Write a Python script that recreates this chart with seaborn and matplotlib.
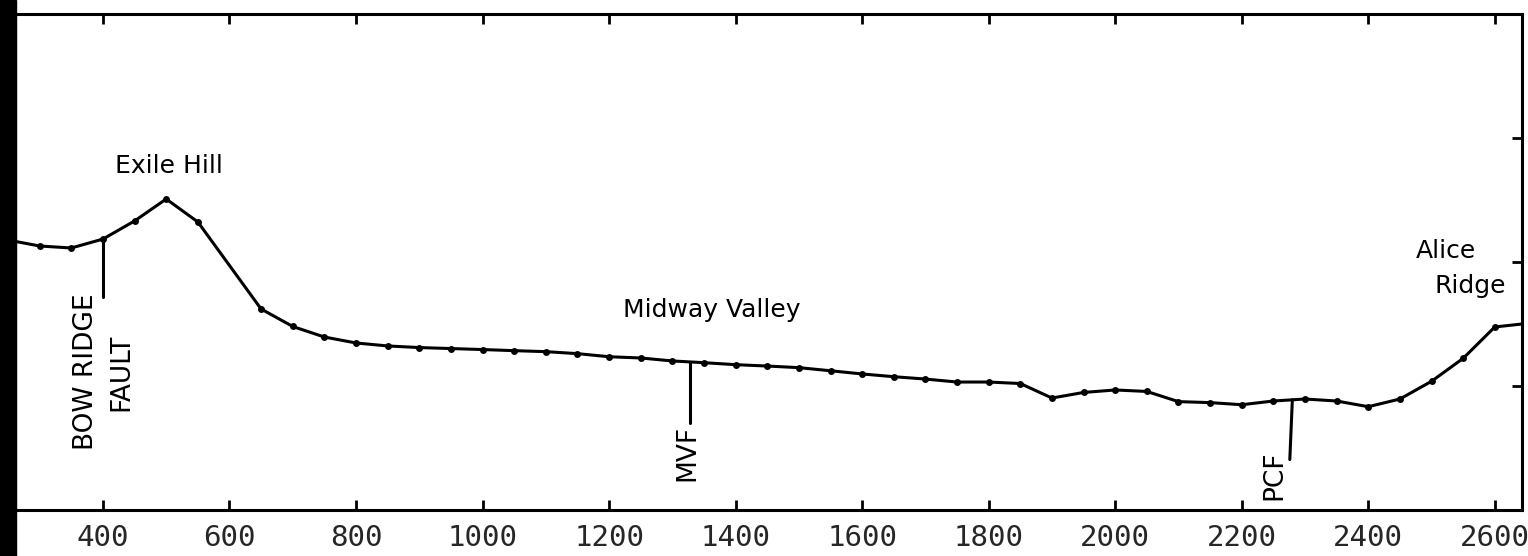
import numpy as np
import pandas as pd
import seaborn as sns
import matplotlib.pyplot as plt

# --- profile data (distance along section, relative elevation) ---
distance = [250, 300, 350, 400, 450, 500, 550, 650, 700, 750, 800, 850, 900,
            950, 1000, 1050, 1100, 1150, 1200, 1250, 1300, 1350, 1400, 1450,
            1500, 1550, 1600, 1650, 1700, 1750, 1800, 1850, 1900, 1950, 2000,
            2050, 2100, 2150, 2200, 2250, 2300, 2350, 2400, 2450, 2500, 2550,
            2600, 2650]
elevation = [217.7, 212.9, 211.3, 218.5, 233.1, 250.8, 232.3, 162.1, 148.0,
             139.5, 134.7, 132.3, 131.0, 130.2, 129.4, 128.5, 127.7, 126.1,
             123.6, 122.6, 120.2, 118.8, 117.2, 116.1, 114.8, 112.3, 109.7,
             107.5, 105.6, 103.2, 103.2, 102.0, 90.3, 94.8, 96.8, 95.6, 87.4,
             86.6, 84.9, 87.9, 89.5, 87.9, 83.3, 89.5, 103.8, 122.3, 147.6,
             150.4]

# fault leader lines: position at the profile, position at the label end, bottom of line
fault_names = ["BOW RIDGE\nFAULT", "MVF", "PCF"]
fault_top_x = [400, 1328, 2280]
fault_bottom_x = [400, 1328, 2276]
fault_bottom_y = [171.8, 70.2, 40.7]
fault_label_x = [401, 1323, 2252]
fault_label_y = [111.3, 46.4, 28.2]

# place names
place_names = ["Exile Hill", "Midway Valley", "Alice", "Ridge"]
place_x = [505, 1363, 2522, 2561]
place_y = [271.8, 155.6, 203.0, 175.0]

x_ticks = [400, 600, 800, 1000, 1200, 1400, 1600, 1800, 2000, 2200, 2400, 2600]
y_ticks = [100, 200, 300]

df = pd.DataFrame({"distance": distance, "elevation": elevation})

sns.set_theme(style="white")
plt.rcParams['font.family'] = ['DejaVu Sans']

fig = plt.figure(figsize=(15.28, 5.56), dpi=100)
ax = fig.add_axes([15 / 1528, 46 / 556, 1507 / 1528, 496 / 556])

sns.lineplot(data=df, x="distance", y="elevation", ax=ax, color="black",
             linewidth=2.2, marker="o", markersize=5, markeredgewidth=0,
             markerfacecolor="black", sort=False)

# leader lines for the faults
for tx, bx, by in zip(fault_top_x, fault_bottom_x, fault_bottom_y):
    ty = np.interp(tx, distance, elevation)
    ax.plot([tx, bx], [ty, by], color="black", linewidth=2.2)

for name, lx, ly in zip(fault_names, fault_label_x, fault_label_y):
    ax.text(lx, ly, name, rotation=90, ha="center", va="center",
            multialignment="center", fontsize=19, linespacing=1.45,
            color="black")

for name, px, py in zip(place_names, place_x, place_y):
    ax.text(px, py, name, ha="center", va="baseline", fontsize=18,
            color="black")

ax.set_xlim(261, 2643)
ax.set_ylim(0, 400)
ax.set_xticks(x_ticks)
ax.set_xticklabels([str(t) for t in x_ticks], family="DejaVu Sans Mono",
                   fontsize=21)
ax.set_yticks(y_ticks)
ax.set_xlabel("")
ax.set_ylabel("")

ax.tick_params(axis="x", which="both", direction="in", top=True, bottom=True,
               length=7, width=2, pad=10, color="black")
ax.tick_params(axis="y", which="both", direction="in", left=False, right=True,
               labelleft=False, labelright=False, length=7, width=2,
               color="black")

for side in ["top", "bottom", "left", "right"]:
    ax.spines[side].set_visible(True)
    ax.spines[side].set_color("black")
    ax.spines[side].set_linewidth(2.2)

# dark strip down the left edge of the scanned figure
fig.add_artist(plt.Rectangle((0, 0), 16 / 1528, 1, transform=fig.transFigure,
                             color="black", zorder=10))

fig.savefig("out.png", dpi=100, facecolor="white")
